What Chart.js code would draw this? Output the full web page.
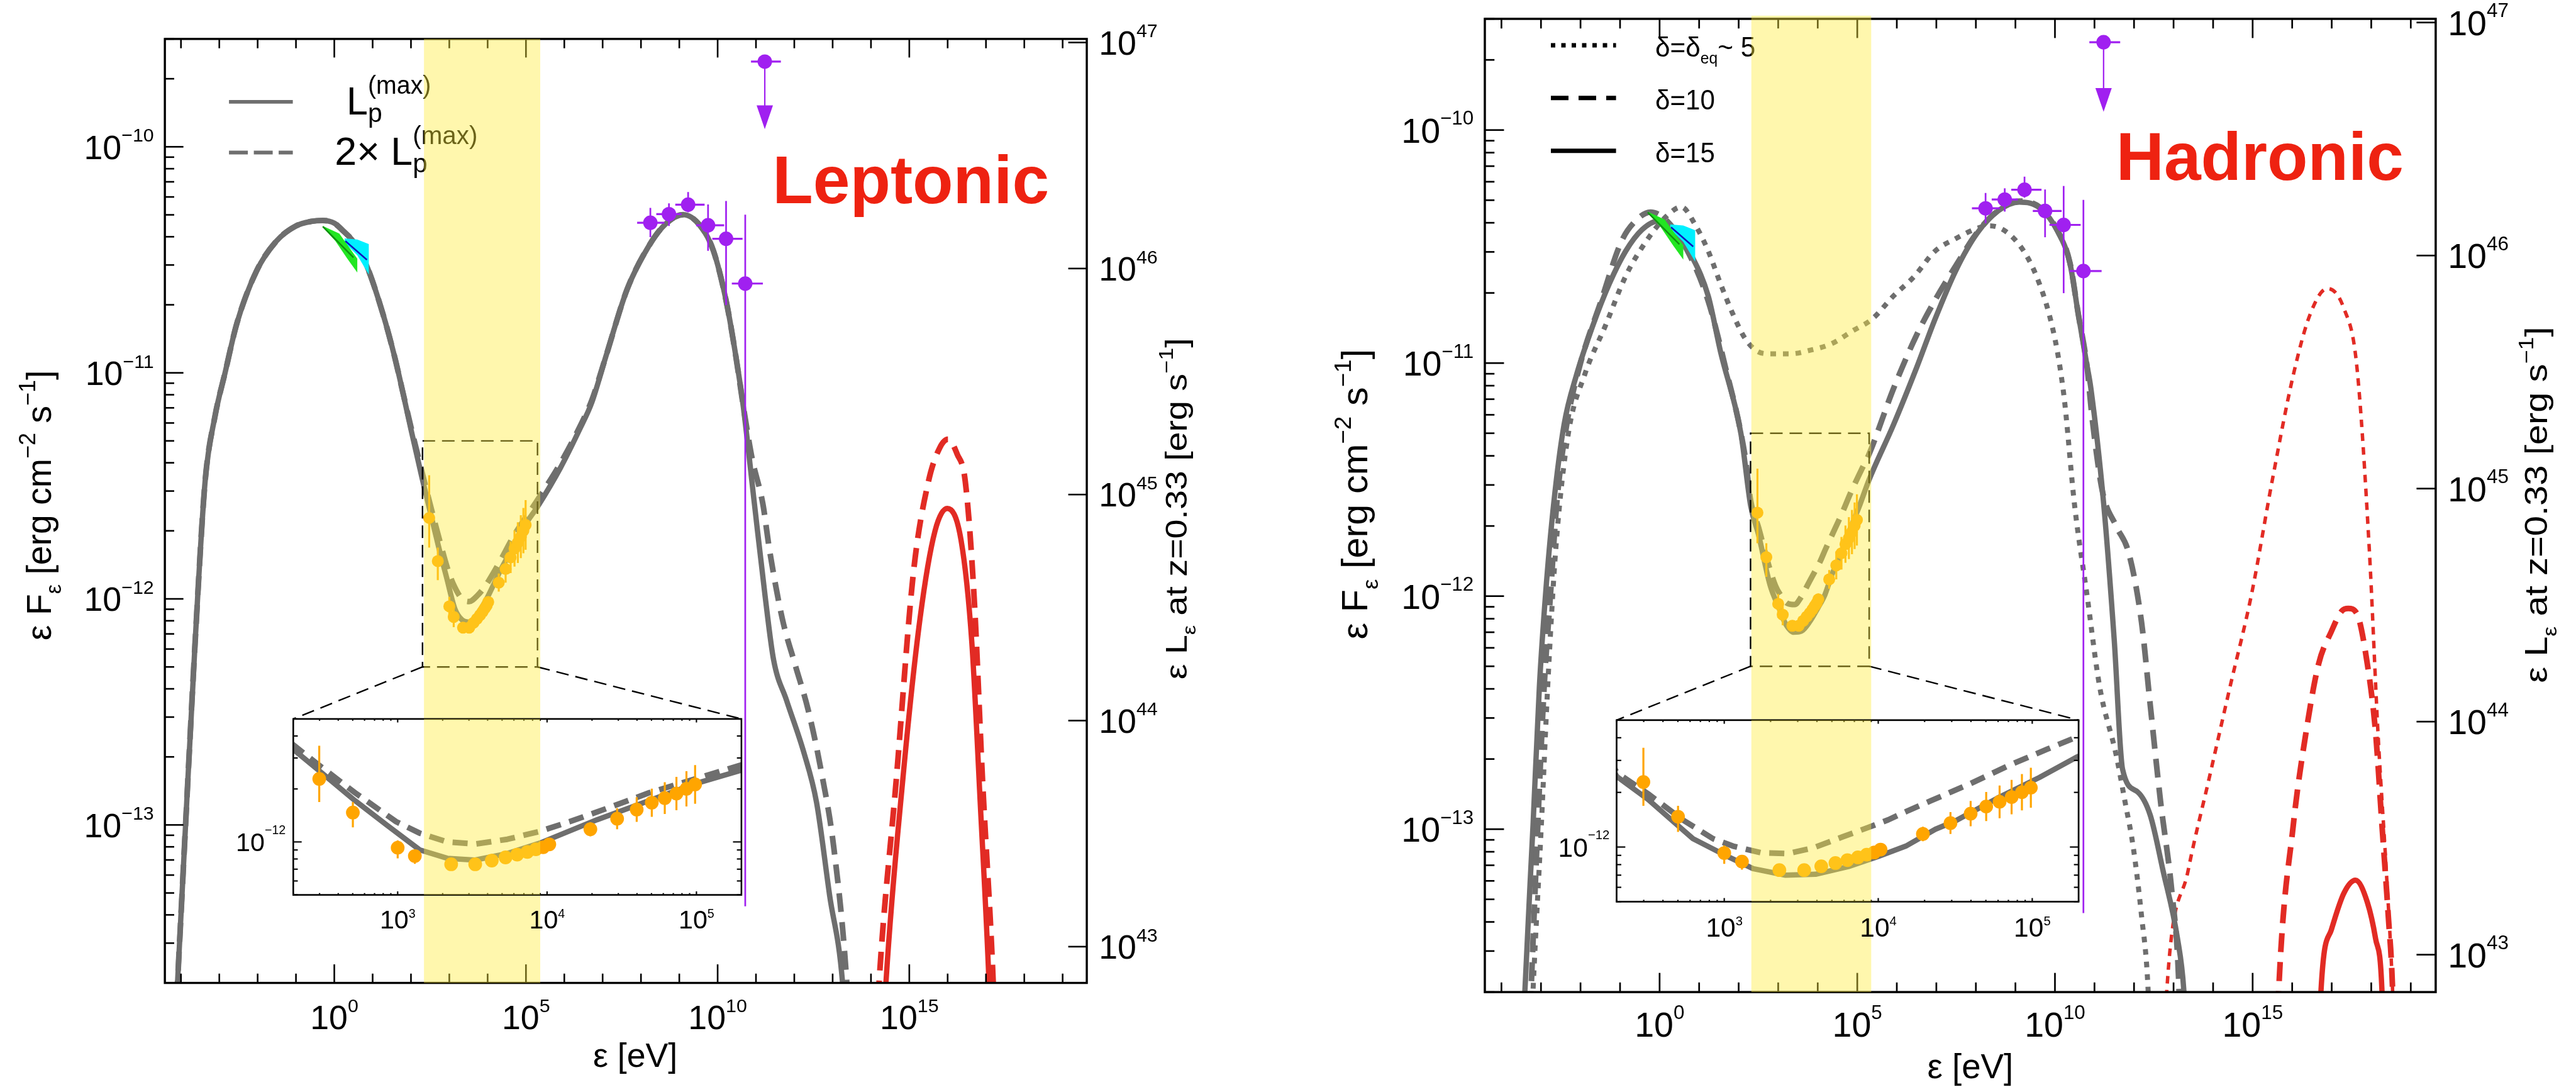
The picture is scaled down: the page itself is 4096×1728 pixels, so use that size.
<!DOCTYPE html>
<html>
<head>
<meta charset="utf-8">
<title>SED: leptonic and hadronic models</title>
<script src="https://cdn.jsdelivr.net/npm/chart.js@4.4.1/dist/chart.umd.min.js"></script>
<style>
  html, body { margin: 0; padding: 0; background: #fff; }
  #page { position: relative; width: 4096px; height: 1728px; overflow: hidden; background: #fff; }
  #page canvas { position: absolute; }
</style>
</head>
<body>
<div id="page">
  <canvas id="lepMain"></canvas>
  <canvas id="hadMain"></canvas>
  <canvas id="lepInset"></canvas>
  <canvas id="hadInset"></canvas>
</div>
<script>
// ---------------------------------------------------------------- axis ranges
const energyRangeLog = [-4.42, 19.63];          // log10 eV
const fluxRange = [2e-14, 3e-10];               // erg cm^-2 s^-1
const lumPerFlux = 10 ** 56.5385;               // 4 pi d_L^2 at z = 0.33
const insetEnergyRange = [200, 2e5];            // eV
const insetFluxRange = [5e-13, 5e-12];
const xrayBand = [1.5e3, 9.0e3];                // eV, shaded band

// ---------------------------------------------------------------- ticks
const energyTickExps = [-4,-3,-2,-1,0,1,2,3,4,5,6,7,8,9,10,11,12,13,14,15,16,17,18,19];
const energyLabelExps = [0, 5, 10, 15];
const fluxTickExps = [-14, -13, -12, -11, -10];
const fluxLabelExps = [-13, -12, -11, -10];
const lumLabelExps = [43, 44, 45, 46, 47];
const insetEnergyTickExps = [2, 3, 4, 5];
const insetEnergyLabelExps = [3, 4, 5];
const insetFluxTickExps = [-13, -12];
const insetFluxLabelExps = [-12];

// ---------------------------------------------------------------- leptonic models (log10 eV, log10 erg cm^-2 s^-1)
const lepMaxLogE = [-4.15,-4.09,-3.88,-3.63,-3.37,-3.11,-2.85,-2.54,-2.03,-1.51,-1.0,-0.6,-0.3,0.0,0.23,0.55,0.85,1.27,1.575,1.78,2.0,2.289,2.467,2.714,2.93,3.147,3.332,3.518,3.734,3.951,4.334,4.686,4.977,5.31,5.9,6.4,6.72,7.08,7.64,8.2,8.65,9.1,9.55,9.89,10.22,10.45,10.67,10.96,11.24,11.46,11.8,12.25,12.58,12.92,13.26,13.33];
const lepMaxLogF = [-13.9,-13.7,-13.0,-12.19,-11.48,-11.19,-11.0,-10.78,-10.55,-10.417,-10.35,-10.33,-10.326,-10.338,-10.372,-10.43,-10.528,-10.74,-10.93,-11.08,-11.25,-11.465,-11.59,-11.765,-11.906,-12.045,-12.093,-12.103,-12.066,-12.007,-11.874,-11.764,-11.673,-11.59,-11.42,-11.25,-11.13,-10.93,-10.63,-10.44,-10.34,-10.30,-10.35,-10.46,-10.68,-10.90,-11.15,-11.58,-11.99,-12.27,-12.45,-12.68,-12.90,-13.31,-13.70,-13.9];
const lep2xLogE = [-4.15,-4.09,-3.88,-3.63,-3.37,-3.11,-2.85,-2.54,-2.03,-1.51,-1.0,-0.6,-0.3,0.0,0.23,0.55,0.85,1.27,1.575,1.78,2.0,2.289,2.467,2.714,2.99,3.147,3.332,3.518,3.734,3.951,4.15,4.334,4.686,5.31,5.9,6.4,6.72,7.08,7.64,8.2,8.65,9.1,9.55,9.89,10.22,10.45,10.69,10.9,11.18,11.35,11.69,12.02,12.36,12.70,13.03,13.37,13.43];
const lep2xLogF = [-13.9,-13.7,-13.0,-12.19,-11.48,-11.19,-11.0,-10.78,-10.55,-10.417,-10.35,-10.33,-10.326,-10.338,-10.372,-10.43,-10.528,-10.74,-10.93,-11.08,-11.24,-11.44,-11.56,-11.72,-11.885,-11.95,-12.0,-12.012,-11.985,-11.94,-11.885,-11.83,-11.72,-11.56,-11.40,-11.24,-11.12,-10.93,-10.63,-10.44,-10.34,-10.30,-10.35,-10.46,-10.68,-10.90,-11.17,-11.38,-11.58,-11.78,-12.09,-12.29,-12.49,-12.76,-13.10,-13.70,-13.9];
const lepMaxCascLogE = [14.33,14.39,14.83,15.28,15.67,15.99,16.35,16.63,16.85,17.08,17.12];
const lepMaxCascLogF = [-13.9,-13.70,-12.80,-12.087,-11.70,-11.60,-11.74,-12.19,-12.90,-13.70,-13.9];
const lep2xCascLogE = [14.15,14.21,14.66,15.11,15.50,15.80,16.01,16.25,16.46,16.69,16.91,17.19,17.23];
const lep2xCascLogF = [-13.9,-13.70,-12.80,-11.88,-11.48,-11.33,-11.294,-11.36,-11.48,-11.99,-12.80,-13.70,-13.9];

// ---------------------------------------------------------------- hadronic models
const had15LogE = [-3.45,-3.406,-3.20,-3.04,-2.885,-2.676,-2.417,-2.10,-1.69,-1.27,-0.855,-0.44,-0.02,0.39,0.81,1.23,1.54,2.06,2.305,2.504,2.797,3.008,3.187,3.398,3.593,3.805,4.0,4.179,4.371,4.499,4.773,5.046,5.293,5.915,6.5,6.97,7.5,8.03,8.57,9.10,9.63,10.06,10.38,10.59,10.80,10.91,11.23,11.5,11.71,12.09,12.41,12.73,13.10,13.26,13.32];
const had15LogF = [-13.9,-13.692,-12.98,-12.388,-11.994,-11.60,-11.265,-11.05,-10.84,-10.659,-10.519,-10.427,-10.39,-10.432,-10.54,-10.712,-10.95,-11.305,-11.613,-11.737,-11.954,-12.046,-12.119,-12.155,-12.15,-12.108,-12.052,-11.995,-11.902,-11.857,-11.731,-11.617,-11.503,-11.265,-11.02,-10.81,-10.60,-10.443,-10.346,-10.309,-10.336,-10.432,-10.573,-10.79,-11.0,-11.11,-11.60,-12.19,-12.743,-12.84,-12.94,-13.175,-13.47,-13.692,-13.9];
const had10LogE = [-3.30,-3.25,-3.08,-2.92,-2.76,-2.6,-2.35,-2.0,-1.48,-0.96,-0.54,-0.23,0.186,0.707,1.23,1.64,2.165,2.305,2.504,2.73,2.927,3.057,3.236,3.415,3.577,3.772,3.935,4.065,4.195,4.342,4.6,4.85,5.1,5.3,5.915,6.5,7.0,7.5,8.03,8.57,9.10,9.63,10.06,10.38,10.59,10.80,10.95,11.2,11.55,11.87,12.19,12.41,12.67,12.96,13.13,13.17];
const had10LogF = [-13.9,-13.69,-12.98,-12.39,-11.994,-11.60,-11.265,-11.0,-10.734,-10.476,-10.379,-10.352,-10.39,-10.519,-10.734,-11.0,-11.403,-11.592,-11.706,-11.85,-11.954,-11.995,-12.031,-12.036,-12.005,-11.943,-11.892,-11.85,-11.799,-11.745,-11.65,-11.55,-11.46,-11.39,-11.11,-10.88,-10.72,-10.58,-10.44,-10.345,-10.305,-10.333,-10.43,-10.57,-10.79,-11.0,-11.25,-11.55,-11.70,-11.817,-12.112,-12.467,-12.88,-13.274,-13.649,-13.9];
const had5LogE = [-3.25,-3.20,-2.99,-2.83,-2.625,-2.31,-1.895,-1.376,-0.855,-0.334,0.186,0.55,0.916,1.23,1.54,1.85,2.165,2.48,2.79,3.31,3.83,4.35,4.87,5.39,5.915,6.43,6.97,7.5,8.03,8.35,8.78,9.21,9.53,9.85,10.06,10.22,10.27,10.49,10.81,11.13,11.55,11.77,11.98,12.19,12.35,12.40];
const had5LogF = [-13.9,-13.69,-12.98,-12.388,-11.797,-11.305,-11.05,-10.842,-10.626,-10.476,-10.368,-10.33,-10.411,-10.519,-10.659,-10.788,-10.895,-10.95,-10.96,-10.96,-10.944,-10.917,-10.863,-10.809,-10.712,-10.63,-10.519,-10.465,-10.422,-10.411,-10.438,-10.519,-10.626,-10.788,-10.949,-11.13,-11.206,-11.60,-11.994,-12.388,-12.683,-12.88,-13.077,-13.372,-13.668,-13.9];
const had15CascLogE = [16.70,16.73,16.99,17.31,17.60,17.90,18.11,18.27,18.30];
const had15CascLogF = [-13.9,-13.69,-13.432,-13.274,-13.219,-13.313,-13.47,-13.69,-13.9];
const had10CascLogE = [15.62,15.66,16.03,16.35,16.67,16.99,17.26,17.42,17.63,17.90,18.11,18.27,18.43,18.54,18.57];
const had10CascLogF = [-13.9,-13.69,-12.98,-12.585,-12.29,-12.152,-12.063,-12.053,-12.073,-12.29,-12.585,-12.98,-13.37,-13.69,-13.9];
const had5CascLogE = [12.78,12.83,13.37,13.90,14.43,14.97,15.50,16.03,16.46,16.89,17.31,17.63,17.95,18.17,18.38,18.54,18.58];
const had5CascLogF = [-13.9,-13.69,-13.176,-12.782,-12.388,-11.994,-11.50,-11.05,-10.788,-10.68,-10.766,-11.005,-11.797,-12.585,-13.176,-13.692,-13.9];

// ---------------------------------------------------------------- observations
// optical / UV
const greenBandLogE = [-0.30, 0.13, 0.60, 0.60, 0.34, 0.03, -0.30];
const greenBandLogF = [-10.350, -10.384, -10.495, -10.556, -10.495, -10.417, -10.356];
const greenLineLogE = [-0.30, 0.50];
const greenLineLogF = [-10.353, -10.49];
const cyanLogE = [0.27, 0.60, 0.90, 0.90, 0.60, 0.27];
const cyanLogF = [-10.405, -10.41, -10.43, -10.565, -10.48, -10.425];
const blueLineLogE = [0.29, 0.85];
const blueLineLogF = [-10.417, -10.50];
// X-ray spectrum
const xrayLogE   = [2.475, 2.70, 3.00, 3.115, 3.358, 3.519, 3.63, 3.722, 3.80, 3.868, 3.925, 3.974, 4.015, 4.29, 4.469, 4.60, 4.701, 4.788, 4.866, 4.933, 4.991];
const xrayLogF   = [-11.642, -11.833, -12.033, -12.08, -12.127, -12.127, -12.106, -12.088, -12.072, -12.057, -12.042, -12.03, -12.014, -11.928, -11.868, -11.816, -11.777, -11.751, -11.725, -11.698, -11.673];
const xrayLogFLo = [-11.773, -11.917, -12.093, -12.125, -12.147, -12.147, -12.126, -12.108, -12.092, -12.077, -12.062, -12.05, -12.039, -11.968, -11.928, -11.886, -11.857, -11.841, -11.82, -11.798, -11.783];
const xrayLogFHi = [-11.453, -11.773, -11.991, -12.045, -12.107, -12.107, -12.086, -12.068, -12.052, -12.037, -12.022, -12.01, -11.989, -11.888, -11.808, -11.746, -11.697, -11.661, -11.63, -11.598, -11.563];
// gamma-ray bins
const fermiLogE   = [8.245, 8.73, 9.23, 9.75, 10.22, 10.72];
const fermiLogELo = [7.90, 8.40, 8.895, 9.44, 9.86, 10.37];
const fermiLogEHi = [8.61, 9.06, 9.66, 10.17, 10.65, 11.18];
const fermiLogF   = [-10.336, -10.298, -10.256, -10.347, -10.407, -10.605];
const fermiLogFLo = [-10.40, -10.35, -10.29, -10.46, -10.70, -13.36];
const fermiLogFHi = [-10.27, -10.25, -10.20, -10.255, -10.24, -10.30];
// gamma-ray upper limit
const fermiULLogE   = [11.23];
const fermiULLogELo = [10.87];
const fermiULLogEHi = [11.65];
const fermiULLogF   = [-9.623];
const fermiULTipLogF = [-9.922];

// ---------------------------------------------------------------- styles
const FONT = "'Liberation Sans', Arial, Helvetica, sans-serif";
const GRAY = '#6e6e6e';
const RED = '#e22b24';
const TAG_RED = '#ee2211';
const PURPLE = '#a020f0';
const ORANGE = '#ffa500';
const BAND_FILL = 'rgba(255, 235, 60, 0.42)';
const MINUS = '\u2212';

const STYLE = {
  solidGray:  { borderColor: GRAY, borderWidth: 8.5 },
  dashedGray: { borderColor: GRAY, borderWidth: 9, borderDash: [30, 16] },
  dottedGray: { borderColor: GRAY, borderWidth: 8, borderDash: [9, 11] },
  solidRed:   { borderColor: RED, borderWidth: 8.5 },
  dashedRed:  { borderColor: RED, borderWidth: 9, borderDash: [30, 16] },
  dottedRed:  { borderColor: RED, borderWidth: 5.5, borderDash: [12, 10] },
  insetSolid: { borderColor: GRAY, borderWidth: 8.5 },
  insetDashed:{ borderColor: GRAY, borderWidth: 9, borderDash: [24, 14] }
};

const pts = (le, lf) => le.map((e, i) => ({ x: 10 ** e, y: 10 ** lf[i] }));

// ---------------------------------------------------------------- panel layout (page pixels)
const SUB = (F) => ({ size: 0.62 * F, dy: 0.30 * F });
const SUP = (F) => ({ size: 0.65 * F, dy: -0.45 * F });

function fluxTitleParts(F) {
  return [{ t: '\u03b5 F', size: F }, Object.assign({ t: '\u03b5' }, SUB(F)), { t: ' [erg cm', size: F },
          Object.assign({ t: MINUS + '2' }, SUP(F)), { t: ' s', size: F }, Object.assign({ t: MINUS + '1' }, SUP(F)), { t: ']', size: F }];
}
function lumTitleParts(F) {
  return [{ t: '\u03b5 L', size: F }, Object.assign({ t: '\u03b5' }, SUB(F)), { t: ' at z=0.33 [erg s', size: F },
          Object.assign({ t: MINUS + '1' }, SUP(F)), { t: ']', size: F }];
}
function lpParts(prefix, F) {
  return [{ t: prefix + 'L', size: F }, { t: 'p', size: 0.67 * F, dy: 0.206 * F, stack: true }, { t: '(max)', size: 0.644 * F, dy: -0.522 * F }];
}

const LEP = {
  mainId: 'lepMain', insetId: 'lepInset', k: 1,
  canvas: { left: 0, top: 0, width: 2048, height: 1728 },
  area: { left: 262.15, right: 1728.06, top: 61.91, bottom: 1562.55 },
  inset: { canvas: { left: 350, top: 1128, width: 843, height: 373 },
           area: { left: 466.3, right: 1178.9, top: 1142.9, bottom: 1422.6 } },
  bandOverTop: 0,
  tick: { big: 53.7, small: 30.4, raise: 10.7, gapLeft: 17.4, gapRight: 19.1, gapBottom: 35.1 },
  insetTick: { big: 41.2, small: 19.7, raiseY: 11.6, raiseX: 1.5, gapLeft: 12, gapBottom: 23.9 },
  xTitle: { x: 1010.1, y: 1696.4, size: 53.7 },
  yTitle: { x: 80.5, y: 803.4, size: 55.5, len: 429.5 },
  lumTitle: { x: 1887.0, y: 808.8, size: 48.3, len: 543 },
  tag: { text: 'Leptonic', x: 1228.2, y: 322.7, size: 107.4, len: 440 },
  legend: {
    lines: [ { x0: 364.1, x1: 465.6, y: 161.8, color: GRAY, width: 5.8, dash: [] },
             { x0: 364.1, x1: 465.6, y: 242.5, color: GRAY, width: 5.8, dash: [30, 9.5] } ],
    texts: [ { x: 551.1, y: 181.6, len: 134.3, parts: lpParts('', 62.6) },
             { x: 532.3, y: 261.6, len: 227.1, parts: lpParts('2\u00d7 ', 62.6) } ]
  },
  curves: [
    { logE: lepMaxLogE, logF: lepMaxLogF, style: 'solidGray', inset: 'insetSolid' },
    { logE: lep2xLogE, logF: lep2xLogF, style: 'dashedGray', inset: 'insetDashed' },
    { logE: lepMaxCascLogE, logF: lepMaxCascLogF, style: 'solidRed' },
    { logE: lep2xCascLogE, logF: lep2xCascLogF, style: 'dashedRed' }
  ]
};

const HAD = {
  mainId: 'hadMain', insetId: 'hadInset', k: 1.033,
  canvas: { left: 2048, top: 0, width: 2048, height: 1728 },
  area: { left: 2360.98, right: 3872.9, top: 29.97, bottom: 1577.1 },
  inset: { canvas: { left: 2454, top: 1130, width: 865, height: 381 },
           area: { left: 2570.5, right: 3305.1, top: 1144.8, bottom: 1433.4 } },
  bandOverTop: 5,
  tick: { big: 55.5, small: 31.4, raise: 11, gapLeft: 17.7, gapRight: 19.3, gapBottom: 31.5 },
  insetTick: { big: 42.5, small: 20.3, raiseY: 12, raiseX: 1.5, gapLeft: 11.2, gapBottom: 25 },
  xTitle: { x: 3132.8, y: 1714.3, size: 54.6 },
  yTitle: { x: 2174.2, y: 785.6, size: 57.3, len: 461.7 },
  lumTitle: { x: 4050.4, y: 802.6, size: 50.1, len: 566.4 },
  tag: { text: 'Hadronic', x: 3364.7, y: 286, size: 107.4, len: 457.2 },
  legend: {
    lines: [ { x0: 2466, x1: 2569.6, y: 71.9, color: '#000', width: 7, dash: [7, 9.5] },
             { x0: 2466, x1: 2569.6, y: 155.8, color: '#000', width: 7, dash: [28, 16] },
             { x0: 2466, x1: 2569.6, y: 239.7, color: '#000', width: 7, dash: [] } ],
    texts: [ { x: 2632, y: 89.8, len: 159.3, parts: [ { t: '\u03b4=\u03b4', size: 44.7 }, { t: 'eq', size: 26, dy: 11 }, { t: '~ 5', size: 44.7 } ] },
             { x: 2632, y: 173.8, len: 94.8, parts: [ { t: '\u03b4=10', size: 44.7 } ] },
             { x: 2632, y: 257.7, len: 94.8, parts: [ { t: '\u03b4=15', size: 44.7 } ] } ]
  },
  curves: [
    { logE: had5LogE, logF: had5LogF, style: 'dottedGray' },
    { logE: had10LogE, logF: had10LogF, style: 'dashedGray', inset: 'insetDashed' },
    { logE: had15LogE, logF: had15LogF, style: 'solidGray', inset: 'insetSolid' },
    { logE: had5CascLogE, logF: had5CascLogF, style: 'dottedRed' },
    { logE: had10CascLogE, logF: had10CascLogF, style: 'dashedRed' },
    { logE: had15CascLogE, logF: had15CascLogF, style: 'solidRed' }
  ]
};

// ---------------------------------------------------------------- drawing helpers
function seg(ctx, x1, y1, x2, y2) { ctx.beginPath(); ctx.moveTo(x1, y1); ctx.lineTo(x2, y2); ctx.stroke(); }

function clipTo(ctx, a) { ctx.beginPath(); ctx.rect(a.left, a.top, a.right - a.left, a.bottom - a.top); ctx.clip(); }

// "10" with a raised exponent
function drawPower(ctx, exp, x, y, o) {
  const ex = String(exp).replace('-', MINUS);
  ctx.font = `${o.big}px ${FONT}`;
  const wb = ctx.measureText('10').width;
  ctx.font = `${o.small}px ${FONT}`;
  const we = ctx.measureText(ex).width;
  const total = wb + we;
  const x0 = o.align === 'right' ? x - total : o.align === 'left' ? x : x - total / 2;
  const dh = 0.716 * o.big;
  const top = o.valign === 'top' ? y : y - dh / 2;
  ctx.fillStyle = '#000'; ctx.textAlign = 'left'; ctx.textBaseline = 'alphabetic';
  ctx.font = `${o.big}px ${FONT}`;
  ctx.fillText('10', x0, top + dh);
  ctx.font = `${o.small}px ${FONT}`;
  ctx.fillText(ex, x0 + wb, top - o.raise + 0.716 * o.small);
}

// text with sub/superscripts; parts flagged "stack" share their x with the next part
function drawRich(ctx, parts, x, y, o = {}) {
  const weight = o.weight || 'normal';
  let cursor = 0, stackStart = null, stackW = 0;
  const placed = [];
  for (const p of parts) {
    ctx.font = `${weight} ${p.size}px ${FONT}`;
    const w = ctx.measureText(p.t).width;
    if (stackStart !== null) {
      placed.push({ p, x: stackStart });
      cursor = stackStart + Math.max(stackW, w);
      stackStart = null;
    } else {
      placed.push({ p, x: cursor });
      if (p.stack) { stackStart = cursor; stackW = w; } else cursor += w;
    }
  }
  const total = cursor;
  const sx = o.len ? o.len / total : 1;
  ctx.save();
  ctx.translate(x, y);
  if (o.rotate) ctx.rotate(-Math.PI / 2);
  ctx.scale(sx, 1);
  const x0 = o.align === 'center' ? -total / 2 : 0;
  ctx.fillStyle = o.color || '#000'; ctx.textAlign = 'left'; ctx.textBaseline = 'alphabetic';
  for (const { p, x: px } of placed) {
    ctx.font = `${weight} ${p.size}px ${FONT}`;
    ctx.fillText(p.t, x0 + px, p.dy || 0);
  }
  ctx.restore();
}

function drawPolygon(ctx, xs, ys, logE, logF, fill) {
  ctx.beginPath();
  logE.forEach((e, i) => {
    const px = xs.getPixelForValue(10 ** e), py = ys.getPixelForValue(10 ** logF[i]);
    if (i === 0) ctx.moveTo(px, py); else ctx.lineTo(px, py);
  });
  ctx.closePath(); ctx.fillStyle = fill; ctx.fill();
}

function drawPolyline(ctx, xs, ys, logE, logF, color, width) {
  ctx.beginPath();
  logE.forEach((e, i) => {
    const px = xs.getPixelForValue(10 ** e), py = ys.getPixelForValue(10 ** logF[i]);
    if (i === 0) ctx.moveTo(px, py); else ctx.lineTo(px, py);
  });
  ctx.strokeStyle = color; ctx.lineWidth = width; ctx.stroke();
}

function drawOptical(chart) {
  const { ctx, chartArea: a, scales: { x, y } } = chart;
  ctx.save(); clipTo(ctx, a);
  drawPolygon(ctx, x, y, cyanLogE, cyanLogF, '#00f0ff');
  drawPolygon(ctx, x, y, greenBandLogE, greenBandLogF, '#22e622');
  drawPolyline(ctx, x, y, greenLineLogE, greenLineLogF, '#109010', 2.5);
  drawPolyline(ctx, x, y, blueLineLogE, blueLineLogF, '#1010c0', 2.5);
  ctx.restore();
}

function drawXrayBars(chart, lw) {
  const { ctx, chartArea: a, scales: { x, y } } = chart;
  ctx.save(); clipTo(ctx, a);
  ctx.strokeStyle = ORANGE; ctx.lineWidth = lw;
  xrayLogE.forEach((e, i) => {
    const px = x.getPixelForValue(10 ** e);
    seg(ctx, px, y.getPixelForValue(10 ** xrayLogFLo[i]), px, y.getPixelForValue(10 ** xrayLogFHi[i]));
  });
  ctx.restore();
}

function drawFermiBars(chart) {
  const { ctx, chartArea: a, scales: { x, y } } = chart;
  ctx.save(); clipTo(ctx, a);
  ctx.strokeStyle = PURPLE; ctx.fillStyle = PURPLE;
  fermiLogE.forEach((e, i) => {
    const px = x.getPixelForValue(10 ** e), py = y.getPixelForValue(10 ** fermiLogF[i]);
    ctx.lineWidth = 3.2;
    seg(ctx, x.getPixelForValue(10 ** fermiLogELo[i]), py, x.getPixelForValue(10 ** fermiLogEHi[i]), py);
    ctx.lineWidth = 2.7;
    seg(ctx, px, y.getPixelForValue(10 ** fermiLogFLo[i]), px, y.getPixelForValue(10 ** fermiLogFHi[i]));
  });
  fermiULLogE.forEach((e, i) => {
    const px = x.getPixelForValue(10 ** e), py = y.getPixelForValue(10 ** fermiULLogF[i]);
    const tip = y.getPixelForValue(10 ** fermiULTipLogF[i]);
    const head = 37.9, half = 13;
    ctx.lineWidth = 3.2;
    seg(ctx, x.getPixelForValue(10 ** fermiULLogELo[i]), py, x.getPixelForValue(10 ** fermiULLogEHi[i]), py);
    ctx.lineWidth = 2.2;
    seg(ctx, px, py, px, tip - head + 1);
    ctx.beginPath(); ctx.moveTo(px - half, tip - head); ctx.lineTo(px + half, tip - head); ctx.lineTo(px, tip); ctx.closePath(); ctx.fill();
  });
  ctx.restore();
}

function pageToCanvas(P, px, py) { return [px - P.canvas.left, py - P.canvas.top]; }

// ---------------------------------------------------------------- main panel decorations
function drawMainFrame(chart, P) {
  const { ctx, chartArea: a, scales: { x, y, yL } } = chart;
  const k = P.k, major = 29.5 * k, minor = 14.8 * k;
  ctx.save();
  ctx.strokeStyle = '#000'; ctx.lineCap = 'butt';
  ctx.lineWidth = 3.4 * k;
  ctx.strokeRect(a.left, a.top, a.right - a.left, a.bottom - a.top);
  ctx.lineWidth = 2.6 * k;
  energyTickExps.forEach(e => {
    const px = x.getPixelForValue(10 ** e);
    if (px < a.left - 0.5 || px > a.right + 0.5) return;
    const len = energyLabelExps.includes(e) ? major : minor;
    seg(ctx, px, a.bottom, px, a.bottom - len);
    seg(ctx, px, a.top, px, a.top + len);
  });
  fluxTickExps.forEach(e => {
    for (let m = 1; m <= 9; m++) {
      const v = m * 10 ** e;
      if (v < fluxRange[0] * 0.999 || v > fluxRange[1] * 1.001) continue;
      const py = y.getPixelForValue(v);
      seg(ctx, a.left, py, a.left + (m === 1 ? major : minor), py);
    }
  });
  lumLabelExps.forEach(e => {
    const py = yL.getPixelForValue(10 ** e);
    seg(ctx, a.right, py, a.right - major, py);
  });
  ctx.restore();
}

function drawLegend(ctx, P) {
  const L = P.legend;
  ctx.save();
  L.lines.forEach(l => {
    const [x0, y0] = pageToCanvas(P, l.x0, l.y), [x1] = pageToCanvas(P, l.x1, l.y);
    ctx.strokeStyle = l.color; ctx.lineWidth = l.width; ctx.setLineDash(l.dash); ctx.lineCap = 'butt';
    seg(ctx, x0, y0, x1, y0);
  });
  ctx.setLineDash([]);
  L.texts.forEach(t => {
    const [tx, ty] = pageToCanvas(P, t.x, t.y);
    drawRich(ctx, t.parts, tx, ty, { len: t.len });
  });
  ctx.restore();
}

function insetAreaOnMain(P) {
  const ic = P.insetChart, ia = ic.chartArea, ioff = P.inset.canvas;
  return {
    left: ioff.left + ia.left - P.canvas.left, right: ioff.left + ia.right - P.canvas.left,
    top: ioff.top + ia.top - P.canvas.top, bottom: ioff.top + ia.bottom - P.canvas.top
  };
}

function drawZoomGuide(chart, P) {
  const { ctx, scales: { x, y } } = chart;
  const rx0 = x.getPixelForValue(insetEnergyRange[0]), rx1 = x.getPixelForValue(insetEnergyRange[1]);
  const ry0 = y.getPixelForValue(insetFluxRange[1]), ry1 = y.getPixelForValue(insetFluxRange[0]);
  const ia = insetAreaOnMain(P);
  ctx.save();
  ctx.strokeStyle = '#000'; ctx.lineWidth = 2.4; ctx.setLineDash([20, 11]);
  ctx.strokeRect(rx0, ry0, rx1 - rx0, ry1 - ry0);
  seg(ctx, rx0, ry1, ia.left, ia.top);
  seg(ctx, rx1, ry1, ia.right, ia.top);
  ctx.restore();
}

function drawBandMain(chart, P) {
  const { ctx, chartArea: a } = chart;
  const ic = P.insetChart;
  const bx0 = P.inset.canvas.left + ic.scales.x.getPixelForValue(xrayBand[0]) - P.canvas.left;
  const bx1 = P.inset.canvas.left + ic.scales.x.getPixelForValue(xrayBand[1]) - P.canvas.left;
  const ia = insetAreaOnMain(P);
  ctx.save();
  ctx.fillStyle = BAND_FILL;
  ctx.fillRect(bx0, a.top - P.bandOverTop, bx1 - bx0, ia.top - (a.top - P.bandOverTop));
  ctx.fillRect(bx0, ia.bottom, bx1 - bx0, a.bottom - ia.bottom);
  ctx.restore();
}

function mainDecor(P) {
  return {
    id: 'mainDecor',
    beforeDatasetDraw(chart, args) {
      const role = chart.data.datasets[args.index].role;
      if (role === 'xray') { drawOptical(chart); drawXrayBars(chart, 3.2); }
      if (role === 'fermi') drawFermiBars(chart);
    },
    afterDraw(chart) {
      const { ctx, chartArea: a, scales: { x, y, yL } } = chart;
      drawMainFrame(chart, P);
      drawLegend(ctx, P);
      drawZoomGuide(chart, P);
      drawBandMain(chart, P);
      const tk = P.tick;
      ctx.save();
      fluxLabelExps.forEach(e => drawPower(ctx, e, a.left - tk.gapLeft, y.getPixelForValue(10 ** e),
        { big: tk.big, small: tk.small, raise: tk.raise, align: 'right' }));
      lumLabelExps.forEach(e => drawPower(ctx, e, a.right + tk.gapRight, yL.getPixelForValue(10 ** e),
        { big: tk.big, small: tk.small, raise: tk.raise, align: 'left' }));
      energyLabelExps.forEach(e => drawPower(ctx, e, x.getPixelForValue(10 ** e), a.bottom + tk.gapBottom,
        { big: tk.big, small: tk.small, raise: tk.raise, align: 'center', valign: 'top' }));
      let [tx, ty] = pageToCanvas(P, P.xTitle.x, P.xTitle.y);
      drawRich(ctx, [{ t: '\u03b5 [eV]', size: P.xTitle.size }], tx, ty, { align: 'center' });
      [tx, ty] = pageToCanvas(P, P.yTitle.x, P.yTitle.y);
      drawRich(ctx, fluxTitleParts(P.yTitle.size), tx, ty, { align: 'center', rotate: true, len: P.yTitle.len });
      [tx, ty] = pageToCanvas(P, P.lumTitle.x, P.lumTitle.y);
      drawRich(ctx, lumTitleParts(P.lumTitle.size), tx, ty, { align: 'center', rotate: true, len: P.lumTitle.len });
      [tx, ty] = pageToCanvas(P, P.tag.x, P.tag.y);
      drawRich(ctx, [{ t: P.tag.text, size: P.tag.size }], tx, ty, { weight: 'bold', color: TAG_RED, len: P.tag.len });
      ctx.restore();
    }
  };
}

// ---------------------------------------------------------------- inset decorations
function insetDecor(P) {
  return {
    id: 'insetDecor',
    beforeDatasetDraw(chart, args) {
      if (chart.data.datasets[args.index].role === 'xray') drawXrayBars(chart, 3.2);
    },
    afterDraw(chart) {
      const { ctx, chartArea: a, scales: { x, y } } = chart;
      const k = P.k;
      ctx.save();
      ctx.strokeStyle = '#000'; ctx.lineCap = 'butt';
      ctx.lineWidth = 2.6 * k;
      ctx.strokeRect(a.left, a.top, a.right - a.left, a.bottom - a.top);
      ctx.lineWidth = 2.1 * k;
      insetEnergyTickExps.forEach(e => {
        for (let m = 1; m <= 9; m++) {
          const v = m * 10 ** e;
          if (v < insetEnergyRange[0] * 0.999 || v > insetEnergyRange[1] * 1.001) continue;
          const px = x.getPixelForValue(v), len = (m === 1 ? 5.6 : 2.9) * k;
          seg(ctx, px, a.bottom, px, a.bottom - len);
          seg(ctx, px, a.top, px, a.top + len);
        }
      });
      insetFluxTickExps.forEach(e => {
        for (let m = 1; m <= 9; m++) {
          const v = m * 10 ** e;
          if (v < insetFluxRange[0] * 0.999 || v > insetFluxRange[1] * 1.001) continue;
          const py = y.getPixelForValue(v), len = (m === 1 ? 13.4 : 7.2) * k;
          seg(ctx, a.left, py, a.left + len, py);
          seg(ctx, a.right, py, a.right - len, py);
        }
      });
      const it = P.insetTick;
      insetFluxLabelExps.forEach(e => drawPower(ctx, e, a.left - it.gapLeft, y.getPixelForValue(10 ** e),
        { big: it.big, small: it.small, raise: it.raiseY, align: 'right' }));
      insetEnergyLabelExps.forEach(e => drawPower(ctx, e, x.getPixelForValue(10 ** e), a.bottom + it.gapBottom,
        { big: it.big, small: it.small, raise: it.raiseX, align: 'center', valign: 'top' }));
      const bx0 = x.getPixelForValue(xrayBand[0]), bx1 = x.getPixelForValue(xrayBand[1]);
      ctx.fillStyle = BAND_FILL;
      ctx.fillRect(bx0, a.top, bx1 - bx0, a.bottom - a.top);
      ctx.restore();
    }
  };
}

// ---------------------------------------------------------------- chart builders
function lineDataset(logE, logF, style, extra) {
  return Object.assign({
    type: 'line', data: pts(logE, logF), pointRadius: 0, pointHoverRadius: 0, pointHitRadius: 0,
    fill: false, borderCapStyle: 'butt', borderJoinStyle: 'round', order: 10
  }, STYLE[style], extra || {});
}

function pointDataset(logE, logF, color, radius, role, order) {
  return {
    type: 'line', role, data: pts(logE, logF), showLine: false, order,
    pointRadius: radius, pointHoverRadius: radius, pointBackgroundColor: color, pointBorderWidth: 0, pointBorderColor: color
  };
}

function placeCanvas(id, c) {
  const el = document.getElementById(id);
  el.width = c.width; el.height = c.height;
  el.style.left = c.left + 'px'; el.style.top = c.top + 'px';
  el.style.width = c.width + 'px'; el.style.height = c.height + 'px';
  return el;
}

function hiddenLogAxis(position, min, max, fitter) {
  return {
    type: 'logarithmic', position, min, max, display: true,
    ticks: { display: false }, grid: { display: false, drawTicks: false }, border: { display: false },
    title: { display: false }, afterFit: fitter
  };
}

function buildInset(P) {
  const I = P.inset, c = I.canvas, a = I.area;
  const el = placeCanvas(P.insetId, c);
  const datasets = P.curves.filter(cv => cv.inset).map(cv => lineDataset(cv.logE, cv.logF, cv.inset, { tension: 0 }));
  datasets.push(pointDataset(xrayLogE, xrayLogF, ORANGE, 10.9, 'xray', 2));
  return new Chart(el, {
    type: 'line',
    data: { datasets },
    options: {
      responsive: false, animation: false, devicePixelRatio: 1, events: [],
      layout: { autoPadding: false, padding: { top: a.top - c.top, right: c.left + c.width - a.right, left: 0, bottom: 0 } },
      plugins: { legend: { display: false }, tooltip: { enabled: false } },
      scales: {
        x: hiddenLogAxis('bottom', insetEnergyRange[0], insetEnergyRange[1], s => { s.height = c.top + c.height - a.bottom; }),
        y: hiddenLogAxis('left', insetFluxRange[0], insetFluxRange[1], s => { s.width = a.left - c.left; })
      }
    },
    plugins: [insetDecor(P)]
  });
}

function buildMain(P) {
  const c = P.canvas, a = P.area;
  const el = placeCanvas(P.mainId, c);
  const datasets = P.curves.map(cv => lineDataset(cv.logE, cv.logF, cv.style, { cubicInterpolationMode: 'monotone' }));
  datasets.push(pointDataset(xrayLogE, xrayLogF, ORANGE, 9.5, 'xray', 3));
  datasets.push(pointDataset(fermiLogE, fermiLogF, PURPLE, 11.5, 'fermi', 2));
  datasets.push(pointDataset(fermiULLogE, fermiULLogF, PURPLE, 11.5, 'fermiUL', 1));
  return new Chart(el, {
    type: 'line',
    data: { datasets },
    options: {
      responsive: false, animation: false, devicePixelRatio: 1, events: [],
      layout: { autoPadding: false, padding: { top: a.top - c.top, left: 0, right: 0, bottom: 0 } },
      plugins: { legend: { display: false }, tooltip: { enabled: false } },
      scales: {
        x: hiddenLogAxis('bottom', 10 ** energyRangeLog[0], 10 ** energyRangeLog[1], s => { s.height = c.top + c.height - a.bottom; }),
        y: hiddenLogAxis('left', fluxRange[0], fluxRange[1], s => { s.width = a.left - c.left; }),
        yL: hiddenLogAxis('right', fluxRange[0] * lumPerFlux, fluxRange[1] * lumPerFlux, s => { s.width = c.left + c.width - a.right; })
      }
    },
    plugins: [mainDecor(P)]
  });
}

Chart.defaults.font.family = FONT;
[LEP, HAD].forEach(P => {
  P.insetChart = buildInset(P);
  P.mainChart = buildMain(P);
});
</script>
</body>
</html>
